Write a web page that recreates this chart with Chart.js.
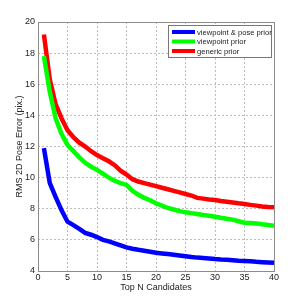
<!DOCTYPE html>
<html>
<head>
<script src="https://cdn.jsdelivr.net/npm/chart.js@4.4.1/dist/chart.umd.min.js"></script>
<style>
    body { margin: 0; background: #fff; }
    #wrap { width: 299px; height: 301px; }
</style>
</head>
<body>
<div id="wrap"><canvas id="myChart" width="299" height="301"></canvas></div>
<script>
// valeurs
const topN = [];
for (let i = 1; i <= 40; i++) topN.push(i);

const viewpointPose = [11.9, 9.65, 8.75, 7.9, 7.17, 6.95, 6.7, 6.45, 6.33, 6.18,
    6.0, 5.9, 5.78, 5.65, 5.52, 5.43, 5.36, 5.3, 5.24, 5.17,
    5.13, 5.09, 5.05, 5.0, 4.95, 4.9, 4.86, 4.84, 4.81, 4.77,
    4.74, 4.72, 4.69, 4.66, 4.64, 4.62, 4.59, 4.57, 4.55, 4.53];

const viewpointOnly = [17.8, 15.5, 13.8, 12.8, 12.1, 11.7, 11.3, 10.95, 10.7, 10.5,
    10.25, 10.0, 9.8, 9.65, 9.53, 9.15, 8.9, 8.7, 8.55, 8.35,
    8.2, 8.05, 7.95, 7.85, 7.77, 7.72, 7.66, 7.6, 7.55, 7.49,
    7.42, 7.36, 7.3, 7.2, 7.1, 7.08, 7.06, 7.0, 6.95, 6.91];

const generic = [19.2, 16.3, 14.7, 13.8, 13.05, 12.6, 12.25, 12.0, 11.7, 11.45,
    11.25, 11.05, 10.8, 10.45, 10.2, 9.9, 9.75, 9.65, 9.55, 9.45,
    9.35, 9.25, 9.15, 9.05, 8.95, 8.85, 8.7, 8.65, 8.6, 8.56,
    8.5, 8.45, 8.4, 8.35, 8.31, 8.25, 8.2, 8.15, 8.12, 8.1];

const seriesNames = ['viewpoint & pose prior', 'viewpoint prior', 'generic prior'];
const seriesColors = ['#0000ff', '#00ff00', '#ff0000'];

const FONT = 'Liberation Sans, Arial, sans-serif';

function toXY(vals) {
    return vals.map((v, i) => ({ x: topN[i], y: v }));
}

// cadre + légende dans la zone du graphe
const boxAndLegend = {
    id: 'boxAndLegend',
    afterDraw(chart) {
        const ctx = chart.ctx;
        const a = chart.chartArea;
        ctx.save();
        ctx.strokeStyle = '#8c8c8c';
        ctx.lineWidth = 1;
        ctx.strokeRect(Math.round(a.left) + 0.5, Math.round(a.top) + 0.5,
            Math.round(a.right - a.left), Math.round(a.bottom - a.top));

        const lx = 168, ly = 25, lw = 103, lh = 32;
        ctx.fillStyle = '#fff';
        ctx.fillRect(lx, ly, lw, lh);
        ctx.strokeStyle = '#777';
        ctx.strokeRect(lx + 0.5, ly + 0.5, lw, lh);
        ctx.font = '7.6px ' + FONT;
        ctx.textBaseline = 'middle';
        ctx.fillStyle = '#222';
        seriesNames.forEach((name, i) => {
            const yy = ly + 7 + i * 9.5;
            ctx.strokeStyle = seriesColors[i];
            ctx.lineWidth = 4;
            ctx.beginPath();
            ctx.moveTo(lx + 4, yy);
            ctx.lineTo(lx + 27, yy);
            ctx.stroke();
            ctx.fillText(name, lx + 29, yy + 0.5);
        });
        ctx.restore();
    }
};

const ctx = document.getElementById('myChart').getContext('2d');
const datasets = [viewpointPose, viewpointOnly, generic].map((vals, i) => ({
    label: seriesNames[i],
    data: toXY(vals),
    borderColor: seriesColors[i],
    backgroundColor: seriesColors[i],
    borderWidth: 4.5,
    pointRadius: 0,
    tension: 0,
    fill: false
}));

new Chart(ctx, {
    type: 'line',
    data: { datasets: datasets },
    options: {
        responsive: false,
        animation: false,
        layout: { padding: { top: 22, right: 25, left: 14, bottom: 8 } },
        plugins: { legend: { display: false }, tooltip: { enabled: false } },
        scales: {
            x: {
                type: 'linear',
                min: 0, max: 40,
                ticks: { stepSize: 5, color: '#222', font: { size: 9, family: FONT }, padding: 1, maxRotation: 0 },
                grid: { color: '#bdbdbd', drawTicks: false, lineWidth: 1 },
                border: { display: false, dash: [2, 2] },
                title: { display: true, text: 'Top N Candidates', color: '#222', font: { size: 9, family: FONT }, padding: { top: 0, bottom: 0 } },
                afterFit: s => { s.height = 22; }
            },
            y: {
                min: 4, max: 20,
                ticks: { stepSize: 2, color: '#222', font: { size: 9, family: FONT }, padding: 3 },
                grid: { color: '#bdbdbd', drawTicks: false, lineWidth: 1 },
                border: { display: false, dash: [2, 2] },
                title: { display: true, text: 'RMS 2D Pose Error (pix.)', color: '#222', font: { size: 9, family: FONT }, padding: { top: 0, bottom: 0 } },
                afterFit: s => { s.width = 24; }
            }
        }
    },
    plugins: [boxAndLegend]
});
</script>
</body>
</html>
